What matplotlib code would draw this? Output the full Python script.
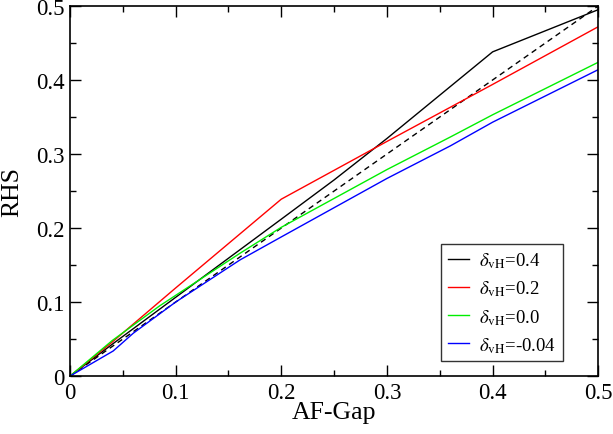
import matplotlib
matplotlib.use('Agg')
import matplotlib.pyplot as plt
from matplotlib.ticker import MultipleLocator, FuncFormatter

plt.rcParams['font.family'] = 'Liberation Serif'
plt.rcParams['mathtext.fontset'] = 'stix'

# curves
x_04 = [0, 0.04, 0.2, 0.25, 0.3, 0.4, 0.5]
y_04 = [0, 0.043, 0.212, 0.265, 0.321, 0.438, 0.495]
x_02 = [0, 0.04, 0.1, 0.2, 0.3, 0.4, 0.5]
y_02 = [0, 0.046, 0.119, 0.239, 0.317, 0.394, 0.472]
x_00 = [0, 0.04, 0.085, 0.161, 0.2, 0.3, 0.36, 0.4, 0.5]
y_00 = [0, 0.048, 0.095, 0.166, 0.201, 0.279, 0.323, 0.353, 0.424]
x_m04 = [0, 0.041, 0.06, 0.1, 0.161, 0.2, 0.3, 0.36, 0.4, 0.5]
y_m04 = [0, 0.034, 0.058, 0.1, 0.157, 0.188, 0.267, 0.311, 0.343, 0.414]
diag = [0, 0.5]

fig = plt.figure(figsize=(6.13, 4.35), dpi=100)
ax = fig.add_axes([0.114, 0.133, 0.862, 0.851])

ax.plot(diag, diag, 'k--', lw=1.0, dashes=(4, 3))
ax.plot(x_04, y_04, color='black', lw=1.0, label=r'$\delta_{\rm vH}$=0.4')
ax.plot(x_02, y_02, color='red', lw=1.0, label=r'$\delta_{\rm vH}$=0.2')
ax.plot(x_00, y_00, color='#00ee00', lw=1.0, label=r'$\delta_{\rm vH}$=0.0')
ax.plot(x_m04, y_m04, color='blue', lw=1.0, label=r'$\delta_{\rm vH}$=-0.04')

ax.set_xlim(0, 0.5)
ax.set_ylim(0, 0.5)
fmt = FuncFormatter(lambda v, p: '0' if abs(v) < 1e-9 else f'{v:g}')
for axis in (ax.xaxis, ax.yaxis):
    axis.set_major_locator(MultipleLocator(0.1))
    axis.set_minor_locator(MultipleLocator(0.05))
    axis.set_major_formatter(fmt)
ax.tick_params(which='both', direction='in', top=True, right=True, labelsize=16.5, width=1)
ax.tick_params(which='major', length=8, pad=4)
ax.tick_params(which='minor', length=4)
for s in ax.spines.values():
    s.set_linewidth(1.2)

ax.set_xlabel('AF-Gap', fontsize=18.5, labelpad=-1)
ax.set_ylabel('RHS', fontsize=18.5)
ax.yaxis.set_label_coords(-0.088, 0.5)

leg = ax.legend(loc='upper left', bbox_to_anchor=(441 / 613, 1 - 245 / 435),
                bbox_transform=fig.transFigure, fontsize=13.5,
                frameon=True, fancybox=False, edgecolor='black', handlelength=1.15,
                handletextpad=0.55, labelspacing=0.45, borderpad=0.35, borderaxespad=0)
leg.get_frame().set_linewidth(1.0)

fig.savefig('out.png', dpi=100)
